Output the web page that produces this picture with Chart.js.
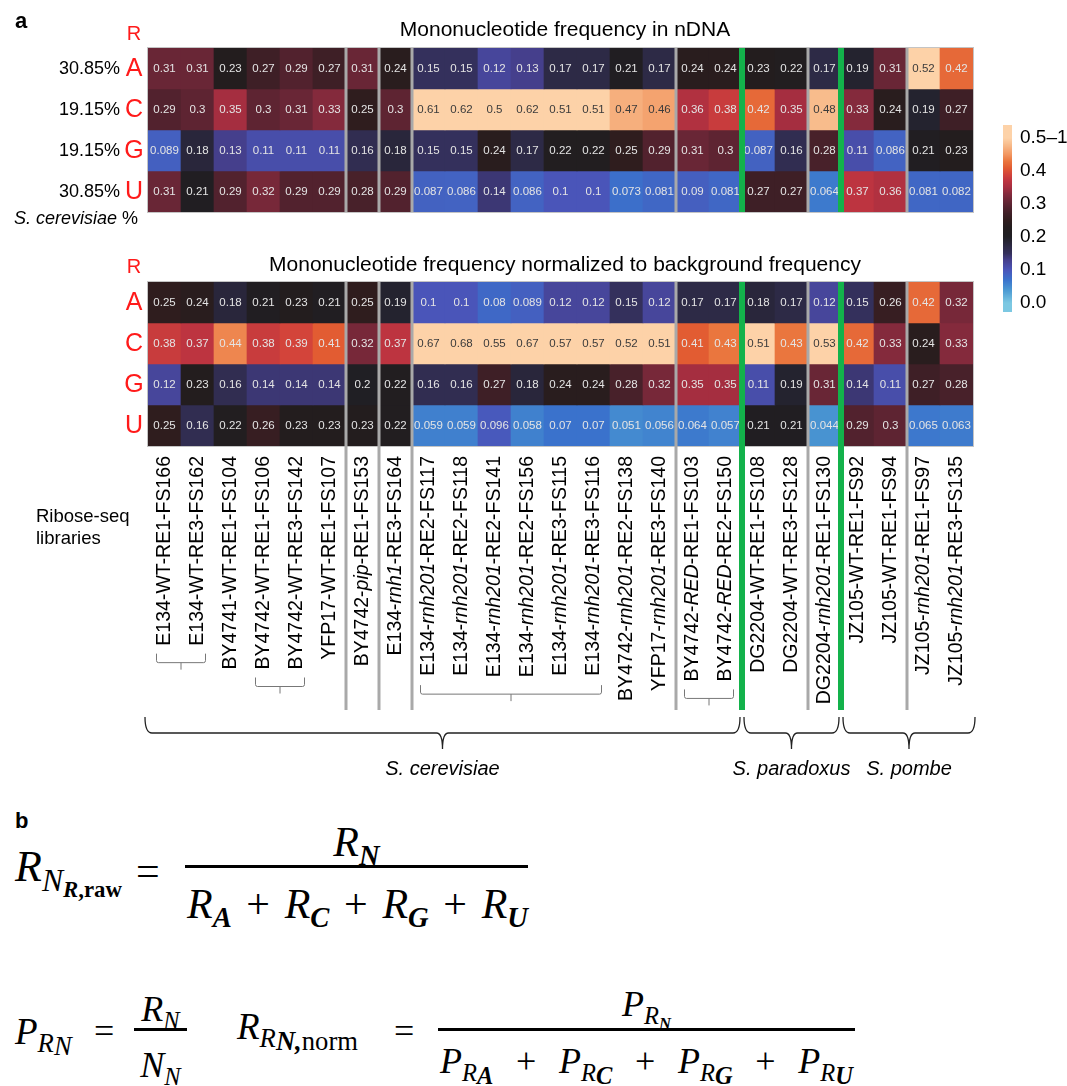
<!DOCTYPE html>
<html>
<head>
<meta charset="utf-8">
<title>Ribose-seq mononucleotide frequency</title>
<script src="https://cdn.jsdelivr.net/npm/chart.js@4.4.1/dist/chart.umd.min.js"></script>
<style>
  body { margin: 0; background: #fff; }
  #page { position: relative; width: 1067px; height: 1086px; overflow: hidden; background: #fff; }
  #heat { position: absolute; left: 0; top: 0; }
  .panel { position: absolute; font: bold 22px "Liberation Sans", Arial, sans-serif; line-height: 1; }
  .m { position: absolute; line-height: 1; white-space: nowrap; font-family: "Liberation Serif", "DejaVu Serif", serif; font-style: italic; color: #000; }
  .m b { font-weight: bold; }
  .up { font-style: normal; }
  .s { font-size: 0.68em; position: relative; top: 0.32em; }
  .s2 { font-size: 0.72em; position: relative; top: 0.3em; }
  .s3 { font-size: 1em; position: relative; top: 0.12em; }
  .bar { position: absolute; height: 3px; background: #000; }
  .row { display: flex; justify-content: space-between; align-items: baseline; }
</style>
</head>
<body>
<div id="page">
  <canvas id="heat" width="1067" height="800"></canvas>
  <div class="panel" style="left:15px;top:10px">a</div>
  <div class="panel" style="left:15px;top:810px">b</div>

  <!-- formula 1 -->
  <div class="m" style="left:15px;top:845px;font-size:44px">R<span class="s2">N<span class="s2"><b>R</b><b class="up">,raw</b></span></span></div>
  <div class="m up" style="left:136px;top:850px;font-size:42px">=</div>
  <div class="m" style="left:185px;width:343px;text-align:center;top:821px;font-size:42px">R<span class="s"><b>N</b></span></div>
  <div class="bar" style="left:185px;top:865px;width:343px"></div>
  <div class="m row" style="left:187px;width:341px;top:883px;font-size:42px">
    <span>R<span class="s"><b>A</b></span></span><span class="up">+</span>
    <span>R<span class="s"><b>C</b></span></span><span class="up">+</span>
    <span>R<span class="s"><b>G</b></span></span><span class="up">+</span>
    <span>R<span class="s"><b>U</b></span></span>
  </div>

  <!-- formula 2 -->
  <div class="m" style="left:15px;top:1013px;font-size:37px">P<span class="s2">R<span class="s3">N</span></span></div>
  <div class="m up" style="left:94px;top:1013px;font-size:36px">=</div>
  <div class="m" style="left:134px;width:53px;text-align:center;top:991px;font-size:36px">R<span class="s">N</span></div>
  <div class="bar" style="left:134px;top:1028px;width:53px"></div>
  <div class="m" style="left:134px;width:53px;text-align:center;top:1047px;font-size:36px">N<span class="s">N</span></div>

  <div class="m" style="left:237px;top:1008px;font-size:37px">R<span class="s2">R<span class="s3"><b>N,</b><span class="up">norm</span></span></span></div>
  <div class="m up" style="left:394px;top:1013px;font-size:36px">=</div>
  <div class="m" style="left:438px;width:417px;text-align:center;top:986px;font-size:36px">P<span class="s">R<span class="s"><b>N</b></span></span></div>
  <div class="bar" style="left:438px;top:1028px;width:417px"></div>
  <div class="m row" style="left:440px;width:413px;top:1043px;font-size:36px">
    <span>P<span class="s">R<span class="s3"><b>A</b></span></span></span><span class="up">+</span>
    <span>P<span class="s">R<span class="s3"><b>C</b></span></span></span><span class="up">+</span>
    <span>P<span class="s">R<span class="s3"><b>G</b></span></span></span><span class="up">+</span>
    <span>P<span class="s">R<span class="s3"><b>U</b></span></span></span>
  </div>
</div>

<script>
// Ribose-seq libraries (columns); *...* marks italic gene names
const libraries = [
  "E134-WT-RE1-FS166", "E134-WT-RE3-FS162", "BY4741-WT-RE1-FS104", "BY4742-WT-RE1-FS106",
  "BY4742-WT-RE3-FS142", "YFP17-WT-RE1-FS107", "BY4742-*pip*-RE1-FS153", "E134-*rnh1*-RE3-FS164",
  "E134-*rnh201*-RE2-FS117", "E134-*rnh201*-RE2-FS118", "E134-*rnh201*-RE2-FS141", "E134-*rnh201*-RE2-FS156",
  "E134-*rnh201*-RE3-FS115", "E134-*rnh201*-RE3-FS116", "BY4742-*rnh201*-RE2-FS138", "YFP17-*rnh201*-RE3-FS140",
  "BY4742-*RED*-RE1-FS103", "BY4742-*RED*-RE2-FS150", "DG2204-WT-RE1-FS108", "DG2204-WT-RE3-FS128",
  "DG2204-*rnh201*-RE1-FS130", "JZ105-WT-RE1-FS92", "JZ105-WT-RE1-FS94", "JZ105-*rnh201*-RE1-FS97",
  "JZ105-*rnh201*-RE3-FS135"
];
const nucleotides = ["A", "C", "G", "U"];
const genomePct = ["30.85%", "19.15%", "19.15%", "30.85%"];

// Mononucleotide frequency in nDNA
const rawA = [0.31, 0.31, 0.23, 0.27, 0.29, 0.27, 0.31, 0.24, 0.15, 0.15, 0.12, 0.13, 0.17, 0.17, 0.21, 0.17, 0.24, 0.24, 0.23, 0.22, 0.17, 0.19, 0.31, 0.52, 0.42];
const rawC = [0.29, 0.3, 0.35, 0.3, 0.31, 0.33, 0.25, 0.3, 0.61, 0.62, 0.5, 0.62, 0.51, 0.51, 0.47, 0.46, 0.36, 0.38, 0.42, 0.35, 0.48, 0.33, 0.24, 0.19, 0.27];
const rawG = [0.089, 0.18, 0.13, 0.11, 0.11, 0.11, 0.16, 0.18, 0.15, 0.15, 0.24, 0.17, 0.22, 0.22, 0.25, 0.29, 0.31, 0.3, 0.087, 0.16, 0.28, 0.11, 0.086, 0.21, 0.23];
const rawU = [0.31, 0.21, 0.29, 0.32, 0.29, 0.29, 0.28, 0.29, 0.087, 0.086, 0.14, 0.086, 0.1, 0.1, 0.073, 0.081, 0.09, 0.081, 0.27, 0.27, 0.064, 0.37, 0.36, 0.081, 0.082];

// Mononucleotide frequency normalized to background frequency
const normA = [0.25, 0.24, 0.18, 0.21, 0.23, 0.21, 0.25, 0.19, 0.1, 0.1, 0.08, 0.089, 0.12, 0.12, 0.15, 0.12, 0.17, 0.17, 0.18, 0.17, 0.12, 0.15, 0.26, 0.42, 0.32];
const normC = [0.38, 0.37, 0.44, 0.38, 0.39, 0.41, 0.32, 0.37, 0.67, 0.68, 0.55, 0.67, 0.57, 0.57, 0.52, 0.51, 0.41, 0.43, 0.51, 0.43, 0.53, 0.42, 0.33, 0.24, 0.33];
const normG = [0.12, 0.23, 0.16, 0.14, 0.14, 0.14, 0.2, 0.22, 0.16, 0.16, 0.27, 0.18, 0.24, 0.24, 0.28, 0.32, 0.35, 0.35, 0.11, 0.19, 0.31, 0.14, 0.11, 0.27, 0.28];
const normU = [0.25, 0.16, 0.22, 0.26, 0.23, 0.23, 0.23, 0.22, 0.059, 0.059, 0.096, 0.058, 0.07, 0.07, 0.051, 0.056, 0.064, 0.057, 0.21, 0.21, 0.044, 0.29, 0.3, 0.065, 0.063];

const titles = ["Mononucleotide frequency in nDNA", "Mononucleotide frequency normalized to background frequency"];
const graySplits = [6, 7, 8, 16, 20, 23];
const greenSplits = [18, 21];
const replicateGroups = [[0, 1], [3, 4], [8, 13], [16, 17]];
const speciesGroups = [["S. cerevisiae", 0, 17], ["S. paradoxus", 18, 20], ["S. pombe", 21, 24]];
const cbarTicks = [0, 0.1, 0.2, 0.3, 0.4, 0.5];
const cbarLabels = ["0.0", "0.1", "0.2", "0.3", "0.4", "0.5\u20131"];

const colorStops = [
  [0.00, "#7cc8e2"], [0.04, "#4a98d2"], [0.07, "#3a72cc"], [0.10, "#4a55b9"],
  [0.13, "#453f8c"], [0.15, "#34305c"], [0.17, "#2d2a46"], [0.20, "#201f24"],
  [0.23, "#231d1e"], [0.25, "#2f1d1e"], [0.27, "#3e1f26"], [0.29, "#52222e"],
  [0.31, "#692636"], [0.33, "#842a3c"], [0.35, "#a52e40"], [0.37, "#bd3440"],
  [0.39, "#d3443a"], [0.41, "#e25c32"], [0.43, "#ea763e"], [0.45, "#f29660"],
  [0.48, "#f8bc8c"], [0.50, "#fdd2a8"], [1.00, "#fdd2a8"]
];

function hexRgb(h) {
  return [1, 3, 5].map(i => parseInt(h.slice(i, i + 2), 16));
}
function heatColor(v) {
  v = Math.max(0, Math.min(1, v));
  for (let i = 1; i < colorStops.length; i++) {
    const [v1, c1] = colorStops[i];
    if (v <= v1) {
      const [v0, c0] = colorStops[i - 1];
      const t = (v - v0) / (v1 - v0);
      const a = hexRgb(c0), b = hexRgb(c1);
      const c = a.map((x, k) => Math.round(x + (b[k] - x) * t));
      return "rgb(" + c.join(",") + ")";
    }
  }
  return colorStops[colorStops.length - 1][1];
}

const SANS = '"Liberation Sans", Arial, sans-serif';
const GAP = 70 / 41;   // space between the two heatmaps, in row units
const blocks = [[rawA, rawC, rawG, rawU], [normA, normC, normG, normU]];

const datasets = [];
blocks.forEach((rows, h) => {
  rows.forEach((vals, r) => {
    const y0 = h * (4 + GAP) + r;
    datasets.push({
      label: nucleotides[r],
      values: vals,
      data: vals.map(() => [y0, y0 + 1]),
      backgroundColor: vals.map(heatColor),
      borderWidth: 0,
      grouped: false,
      barPercentage: 1,
      categoryPercentage: 1
    });
  });
});

// draws text where *...* parts are italic
function drawMixed(ctx, str, x, y, size, align) {
  const parts = str.split("*");
  const fonts = parts.map((p, i) => (i % 2 ? "italic " : "") + size + "px " + SANS);
  let total = 0;
  const widths = parts.map((p, i) => { ctx.font = fonts[i]; const w = ctx.measureText(p).width; total += w; return w; });
  let cx = align === "right" ? x - total : align === "center" ? x - total / 2 : x;
  ctx.textAlign = "left";
  parts.forEach((p, i) => { ctx.font = fonts[i]; ctx.fillText(p, cx, y); cx += widths[i]; });
  return total;
}

function bracket(ctx, x0, x1, yTop, yLine, yTip) {
  const xm = (x0 + x1) / 2;
  ctx.beginPath();
  ctx.moveTo(x0, yTop);
  ctx.lineTo(x0, yLine - 2);
  ctx.quadraticCurveTo(x0, yLine, x0 + 2, yLine);
  ctx.lineTo(x1 - 2, yLine);
  ctx.quadraticCurveTo(x1, yLine, x1, yLine - 2);
  ctx.lineTo(x1, yTop);
  ctx.moveTo(xm, yLine);
  ctx.lineTo(xm, yTip);
  ctx.stroke();
}

function curly(ctx, x0, x1, yTop, yLine, yTip) {
  const xm = (x0 + x1) / 2;
  ctx.beginPath();
  ctx.moveTo(x0, yTop);
  ctx.quadraticCurveTo(x0, yLine, x0 + 7, yLine);
  ctx.lineTo(xm - 6, yLine);
  ctx.quadraticCurveTo(xm, yLine, xm, yTip);
  ctx.quadraticCurveTo(xm, yLine, xm + 6, yLine);
  ctx.lineTo(x1 - 7, yLine);
  ctx.quadraticCurveTo(x1, yLine, x1, yTop);
  ctx.stroke();
}

const heatmapDecor = {
  id: "heatmapDecor",
  afterDatasetsDraw(chart) {
    const { ctx, scales: { x, y } } = chart;
    const colW = x.getPixelForValue(1) - x.getPixelForValue(0);
    const edge = k => x.getPixelForValue(k) - colW / 2;
    const left = edge(0), right = edge(libraries.length);
    const tops = [y.getPixelForValue(0), y.getPixelForValue(4 + GAP)];
    const bots = [y.getPixelForValue(4), y.getPixelForValue(8 + GAP)];

    ctx.save();
    // cell values
    ctx.font = "11.5px " + SANS;
    ctx.textAlign = "center";
    ctx.textBaseline = "middle";
    chart.data.datasets.forEach((ds, i) => {
      chart.getDatasetMeta(i).data.forEach((bar, j) => {
        const v = ds.values[j];
        ctx.fillStyle = v >= 0.45 ? "#3b3b3b" : "#e4e4e4";
        ctx.fillText(String(v), bar.x, (bar.y + bar.base) / 2);
      });
    });

    // outline
    ctx.strokeStyle = "#c4c4c4";
    ctx.lineWidth = 1;
    for (let h = 0; h < 2; h++) ctx.strokeRect(left - 0.5, tops[h] - 0.5, right - left + 1, bots[h] - tops[h] + 1);

    // group separators
    const lowEnd = 710;
    ctx.strokeStyle = "#a9a9a9";
    ctx.lineWidth = 3;
    graySplits.forEach(k => {
      const xx = edge(k);
      ctx.beginPath();
      ctx.moveTo(xx, tops[0]); ctx.lineTo(xx, bots[0]);
      ctx.moveTo(xx, tops[1]); ctx.lineTo(xx, lowEnd);
      ctx.stroke();
    });
    ctx.strokeStyle = "#13b24b";
    ctx.lineWidth = 6;
    greenSplits.forEach(k => {
      const xx = edge(k);
      ctx.beginPath();
      ctx.moveTo(xx, tops[0]); ctx.lineTo(xx, bots[0]);
      ctx.moveTo(xx, tops[1]); ctx.lineTo(xx, lowEnd);
      ctx.stroke();
    });
    ctx.restore();
  },
  afterDraw(chart) {
    const { ctx, scales: { x, y } } = chart;
    const colW = x.getPixelForValue(1) - x.getPixelForValue(0);
    const edge = k => x.getPixelForValue(k) - colW / 2;
    const rowMid = (h, r) => y.getPixelForValue(h * (4 + GAP) + r + 0.5);
    ctx.save();
    ctx.textBaseline = "middle";
    ctx.fillStyle = "#000";

    // titles
    ctx.font = "21px " + SANS;
    ctx.textAlign = "center";
    ctx.fillText(titles[0], 565, 30);
    ctx.fillText(titles[1], 565, 265);

    // row labels
    ctx.fillStyle = "#ff1a1a";
    ctx.font = "20px " + SANS;
    ctx.fillText("R", 134, 34);
    ctx.fillText("R", 134, 267);
    ctx.font = "25px " + SANS;
    for (let h = 0; h < 2; h++) nucleotides.forEach((n, r) => ctx.fillText(n, 134, rowMid(h, r) + 1));
    ctx.fillStyle = "#000";
    ctx.font = "18px " + SANS;
    ctx.textAlign = "right";
    genomePct.forEach((p, r) => ctx.fillText(p, 120, rowMid(0, r) + 1));
    drawMixed(ctx, "*S. cerevisiae* %", 14, 219, 18, "left");

    // column labels
    const labelTop = 456;
    const labelSize = 19.5;
    const labelLen = [];
    libraries.forEach((lib, i) => {
      ctx.save();
      ctx.translate(x.getPixelForValue(i), labelTop);
      ctx.rotate(-Math.PI / 2);
      labelLen[i] = drawMixed(ctx, lib, 0, 0, labelSize, "right");
      ctx.restore();
    });
    ctx.font = "18.5px " + SANS;
    ctx.textAlign = "left";
    ctx.fillText("Ribose-seq", 36, 517);
    ctx.fillText("libraries", 36, 539);

    // replicate brackets
    ctx.strokeStyle = "#777";
    ctx.lineWidth = 1;
    replicateGroups.forEach(([a, b]) => {
      let len = 0;
      for (let i = a; i <= b; i++) len = Math.max(len, labelLen[i]);
      const top = labelTop + len + 8;
      bracket(ctx, x.getPixelForValue(a) - 8, x.getPixelForValue(b) + 8, top, top + 9, top + 16);
    });

    // species braces
    ctx.strokeStyle = "#222";
    ctx.lineWidth = 1.3;
    ctx.font = "italic 20px " + SANS;
    ctx.textAlign = "center";
    speciesGroups.forEach(([name, a, b], k) => {
      const x0 = edge(a) + (k === 0 ? -3 : 2);
      const x1 = edge(b + 1) + (k === speciesGroups.length - 1 ? 2 : -2);
      curly(ctx, x0, x1, 717, 733, 749);
      ctx.fillText(name, (x0 + x1) / 2, 769);
    });

    // colour bar
    const cbX = 1003, cbW = 9, cbTop = 125, cbBot = 312;
    const vy = v => 303 - v * 330;
    for (let yy = cbTop; yy < cbBot; yy++) {
      ctx.fillStyle = heatColor((303 - yy - 0.5) / 330);
      ctx.fillRect(cbX, yy, cbW, 1);
    }
    ctx.fillStyle = "#000";
    ctx.font = "19px " + SANS;
    ctx.textAlign = "left";
    cbarTicks.forEach((t, i) => ctx.fillText(cbarLabels[i], 1020, vy(t)));
    ctx.restore();
  }
};

new Chart(document.getElementById("heat"), {
  type: "bar",
  data: { labels: libraries.map(l => l.replace(/\*/g, "")), datasets },
  options: {
    responsive: false,
    animation: false,
    layout: { padding: { left: 148, right: 94, top: 48, bottom: 354 } },
    plugins: { legend: { display: false }, tooltip: { enabled: false }, title: { display: false } },
    scales: {
      x: { type: "category", offset: true, display: false },
      y: { type: "linear", min: 0, max: 8 + GAP, reverse: true, display: false }
    }
  },
  plugins: [heatmapDecor]
});
</script>
</body>
</html>
